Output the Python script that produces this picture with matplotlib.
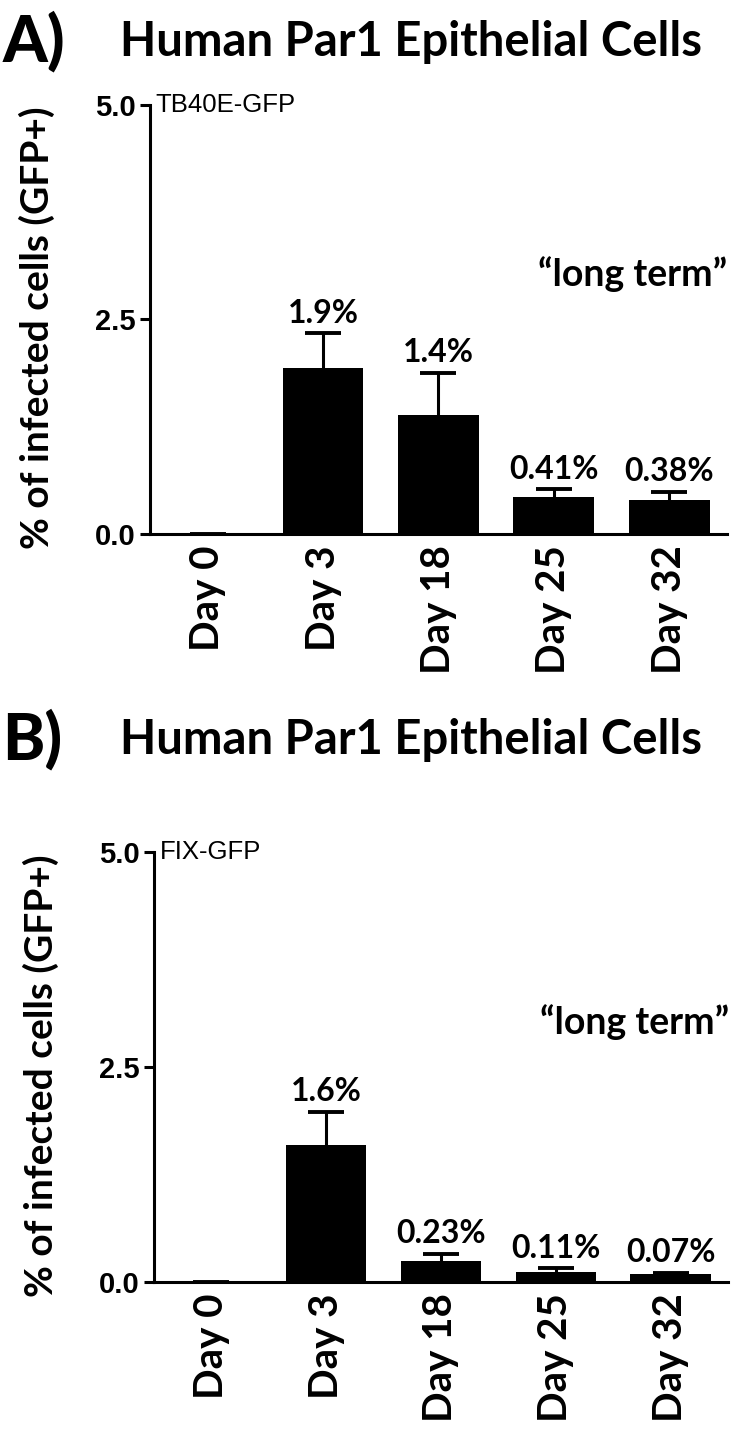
import numpy as np
import matplotlib.pyplot as plt

plt.rcParams['font.family'] = ['Lato', 'DejaVu Sans']

days = ['Day 0', 'Day 3', 'Day 18', 'Day 25', 'Day 32']

# panel A: TB40E-GFP
mean_a = [0.0, 1.94, 1.39, 0.43, 0.40]
err_a = [0.0, 0.40, 0.49, 0.09, 0.09]
lab_a = ['', '1.9%', '1.4%', '0.41%', '0.38%']

# panel B: FIX-GFP
mean_b = [0.0, 1.59, 0.245, 0.12, 0.09]
err_b = [0.0, 0.39, 0.085, 0.04, 0.015]
lab_b = ['', '1.6%', '0.23%', '0.11%', '0.07%']

yticks = [0.0, 2.5, 5.0]
ytick_labels = ['0.0', '2.5', '5.0']

fig = plt.figure(figsize=(7.5, 14.4), dpi=100)


def panel(rect, mean, err, labels, virus, letter, title, title_y):
    ax = fig.add_axes(rect)
    x = np.arange(len(days))
    ax.bar(x, mean, width=0.7, color='black', zorder=2)
    eb = ax.errorbar(x, mean, yerr=[np.zeros(len(err)), err], fmt='none',
                     ecolor='black', elinewidth=2.2, capsize=13, capthick=2.8, zorder=1)
    # only the upper caps, like the original
    eb[1][0].set_visible(False)
    for xi, m, e, t in zip(x, mean, err, labels):
        if t:
            ax.annotate(t, (xi, m + e), xytext=(0, 4), textcoords='offset points',
                        ha='center', va='bottom', fontsize=23, fontweight='bold')
    ax.set_xlim(-0.5, 4.5)
    ax.set_ylim(0, 5)
    ax.set_yticks(yticks)
    ax.set_yticklabels(ytick_labels, fontsize=21, fontweight='bold',
                       family=['Liberation Sans', 'DejaVu Sans'])
    ax.set_xticks(x)
    ax.set_xticklabels(days, rotation=90, fontsize=29, fontweight='bold')
    ax.tick_params(axis='x', length=0, pad=8)
    ax.tick_params(axis='y', length=7, width=2.2, direction='out', pad=3)
    for s in ['top', 'right']:
        ax.spines[s].set_visible(False)
    for s in ['left', 'bottom']:
        ax.spines[s].set_linewidth(2.2)
    ax.set_ylabel('% of infected cells (GFP+)', fontsize=28, fontweight='bold')
    ax.yaxis.set_label_coords(-0.165, 0.48)
    ax.text(0.01, 1.0, virus, transform=ax.transAxes, ha='left', va='center',
            fontsize=18.5, family=['Liberation Sans', 'DejaVu Sans'])
    ax.text(0.672, 0.605, '\u201clong term\u201d', transform=ax.transAxes, ha='left',
            va='center', fontsize=27, fontweight='bold')
    fig.text(0.003, title_y, letter, ha='left', va='center', fontsize=46, fontweight='black')
    fig.text(0.16, title_y, title, ha='left', va='center', fontsize=34, fontweight='bold')
    return ax


panel([0.2, 0.6292, 0.7693, 0.2979], mean_a, err_a, lab_a, 'TB40E-GFP', 'A)',
      'Human Par1 Epithelial Cells', 1 - 42 / 1440)
panel([0.2053, 0.1097, 0.7653, 0.2986], mean_b, err_b, lab_b, 'FIX-GFP', 'B)',
      'Human Par1 Epithelial Cells', 1 - 740 / 1440)

plt.savefig('out.png', dpi=100)
